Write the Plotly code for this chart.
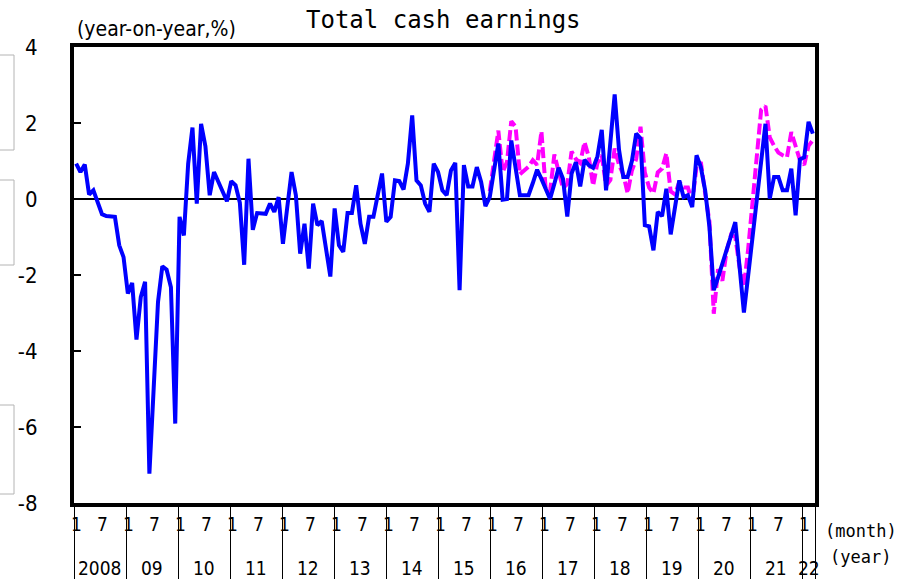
import plotly.graph_objects as go

# ---------------- data (year-on-year, %) ----------------
# monthly, Jan 2008 .. Apr 2022 (index 0 .. 171)
total_cash = [
    0.93, 0.71, 0.91, 0.12, 0.23, -0.08, -0.40, -0.45, -0.46, -0.47, -1.22, -1.53,   # 2008
    -2.49, -2.21, -3.70, -2.58, -2.18, -7.23, -4.97, -2.71, -1.77, -1.86, -2.32, -5.91,  # 2009
    -0.47, -0.96, 0.93, 1.88, -0.12, 1.98, 1.39, 0.10, 0.71, 0.45, 0.15, -0.06,   # 2010
    0.47, 0.36, -0.10, -1.73, 1.06, -0.81, -0.37, -0.38, -0.39, -0.12, -0.34, 0.05,  # 2011
    -1.18, -0.22, 0.71, 0.10, -1.44, -0.65, -1.83, -0.12, -0.69, -0.58, -1.26, -2.04,  # 2012
    -0.25, -1.22, -1.39, -0.37, -0.37, 0.36, -0.65, -1.18, -0.47, -0.47, 0.10, 0.67,  # 2013
    -0.60, -0.47, 0.49, 0.47, 0.25, 0.93, 2.20, 0.49, 0.36, -0.12, -0.34, 0.93,   # 2014
    0.71, 0.23, 0.10, 0.75, 0.95, -2.40, 0.89, 0.33, 0.33, 0.84, 0.45, -0.19,   # 2015
    0.05, 0.84, 1.46, -0.02, 0.00, 1.54, 0.83, 0.10, 0.10, 0.10, 0.42, 0.77,   # 2016
    0.53, 0.27, 0.00, 0.40, 0.82, 0.53, -0.46, 0.67, 0.97, 0.33, 1.03, 0.89,   # 2017
    0.82, 1.12, 1.82, 0.23, 1.45, 2.75, 1.30, 0.58, 0.58, 1.00, 1.72, 1.59,   # 2018
    -0.69, -0.72, -1.35, -0.34, -0.45, 0.27, -0.93, -0.20, 0.49, 0.05, 0.10, -0.21,  # 2019
    1.15, 0.84, 0.23, -0.74, -2.40, -2.06, -1.68, -1.32, -0.92, -0.61, -1.80, -2.99,  # 2020
    -2.00, -1.00, 0.00, 1.00, 1.98, 0.01, 0.58, 0.58, 0.23, 0.23, 0.80, -0.43,   # 2021
    1.04, 1.10, 2.03, 1.72,                                                      # 2022
]
months = list(range(len(total_cash)))

# dashed series, Jan 2016 .. Apr 2022
common_start = 96
common_sample = [
    0.20, 1.00, 1.80, 0.71, 0.97, 2.05, 1.90, 0.65, 0.75, 0.85, 1.02, 0.90,   # 2016
    1.78, 0.25, 0.20, 1.17, 0.72, 0.28, 0.40, 1.25, 1.05, 0.95, 1.50, 1.10,   # 2017
    0.35, 0.95, 1.15, 0.35, 0.50, 1.33, 0.90, 0.65, 0.15, 0.75, 1.05, 1.90,   # 2018
    0.70, 0.30, 0.15, 0.70, 0.80, 1.20, 0.20, 0.12, 0.45, 0.30, 0.30, -0.08,  # 2019
    0.85, 0.97, 0.15, -0.60, -3.02, -1.85, -2.15, -1.35, -0.95, -1.00, -1.80, -2.30,  # 2020
    -1.30, 0.00, 1.20, 2.35, 2.45, 1.62, 1.40, 1.22, 1.15, 1.10, 1.76, 1.35,  # 2021
    1.02, 0.90, 1.40, 1.55,                                                   # 2022
]
common_months = list(range(common_start, common_start + len(common_sample)))

y_ticks = [4, 2, 0, -2, -4, -6, -8]
month_labels = ["1", "7"]
year_labels = ["2008", "09", "10", "11", "12", "13", "14", "15",
               "16", "17", "18", "19", "20", "21", "22"]

# ---------------- figure ----------------
W, H = 913, 579
ML, MR, MT, MB = 74, 98, 47, 76
PW = W - ML - MR            # plot width in px
PH = H - MT - MB
YEAR_PX = 52.0              # width of one year cell in the label table
x2_max = PW / YEAR_PX

NARROW = "Liberation Sans Narrow, Arial Narrow, DejaVu Sans Condensed, sans-serif"
MONO = "DejaVu Sans Mono, Liberation Mono, monospace"


def py(p):  # pixel y -> paper y
    return (H - MB - p) / PH


def px(p):  # pixel x -> paper x
    return (p - ML) / PW


fig = go.Figure()
fig.add_trace(go.Scatter(
    x=common_months, y=common_sample, mode="lines",
    line=dict(color="#FF00FF", width=4, dash="11px,4px"),
    hoverinfo="skip", showlegend=False))
fig.add_trace(go.Scatter(
    x=months, y=total_cash, mode="lines",
    line=dict(color="#0000FF", width=4),
    hoverinfo="skip", showlegend=False))

# year table separators through a second x axis (1 unit = 1 year)
sep_vals = list(range(len(year_labels))) + [x2_max - 1e-6]

annotations = []
for k, yl in enumerate(year_labels):
    cell_end = min(k + 1, x2_max)
    annotations.append(dict(x=(k + cell_end) / 2, y=py(568), xref="x2", yref="paper",
                            xanchor="center", yanchor="middle",
                            text=yl, showarrow=False,
                            font=dict(family=NARROW, size=19, color="black")))
    for ml in month_labels:
        pos = k + (int(ml) - 0.5) / 12
        if pos < x2_max:
            annotations.append(dict(x=pos, y=py(524), xref="x2", yref="paper",
                                    xanchor="center", yanchor="middle",
                                    text=ml, showarrow=False,
                                    font=dict(family=NARROW, size=19, color="black")))

annotations += [
    dict(x=px(443), y=py(20), xref="paper", yref="paper", text="Total cash earnings",
         xanchor="center", yanchor="middle",
         showarrow=False, font=dict(family=MONO, size=24, color="black")),
    dict(x=px(75), y=py(29), xref="paper", yref="paper", xanchor="left", yanchor="middle",
         text="(year-on-year,%)", showarrow=False,
         font=dict(family=NARROW, size=21, color="black")),
    dict(x=px(861), y=py(531), xref="paper", yref="paper", text="(month)",
         xanchor="center", yanchor="middle",
         showarrow=False, font=dict(family=MONO, size=17, color="black")),
    dict(x=px(861), y=py(557), xref="paper", yref="paper", text="(year)",
         xanchor="center", yanchor="middle",
         showarrow=False, font=dict(family=MONO, size=17, color="black")),
]

# faint boxes at the left edge of the screenshot
shapes = []
for top, bot in [(55, 150), (180, 265), (405, 494)]:
    shapes.append(dict(type="path", xref="paper", yref="paper",
                       path=f"M {px(0)},{py(top)} L {px(14)},{py(top)} L {px(14)},{py(bot)} L {px(0)},{py(bot)}",
                       line=dict(color="#b4b4b4", width=1)))

fig.update_layout(
    width=W, height=H, autosize=False,
    margin=dict(l=ML, r=MR, t=MT, b=MB, pad=0, autoexpand=False),
    paper_bgcolor="white", plot_bgcolor="white",
    showlegend=False,
    xaxis=dict(range=[-0.5, 171.5], showline=True, mirror=True, linewidth=4,
               linecolor="black", ticks="", showticklabels=False, automargin=False,
               showgrid=False, zeroline=False, fixedrange=True),
    xaxis2=dict(overlaying="x", side="bottom", range=[0, x2_max], automargin=False,
                tickmode="array", tickvals=sep_vals, ticks="outside",
                ticklen=76, tickwidth=1, tickcolor="black",
                showticklabels=False, showgrid=False, showline=False,
                zeroline=False, fixedrange=True),
    yaxis=dict(range=[-8, 4], tickmode="array", tickvals=y_ticks,
               ticktext=[str(v) for v in y_ticks], automargin=False,
               ticks="inside", ticklen=7, tickwidth=1.5, tickcolor="black",
               showline=True, mirror=True, linewidth=4, linecolor="black",
               showgrid=False, zeroline=True, zerolinecolor="black",
               zerolinewidth=2, ticklabelstandoff=28,
               tickfont=dict(family=NARROW, size=22, color="black"),
               fixedrange=True),
    annotations=annotations,
    shapes=shapes,
)

fig.write_html("out.html", config={"displayModeBar": False},
               post_script="document.body.style.margin='0';document.body.style.overflow='hidden';")
